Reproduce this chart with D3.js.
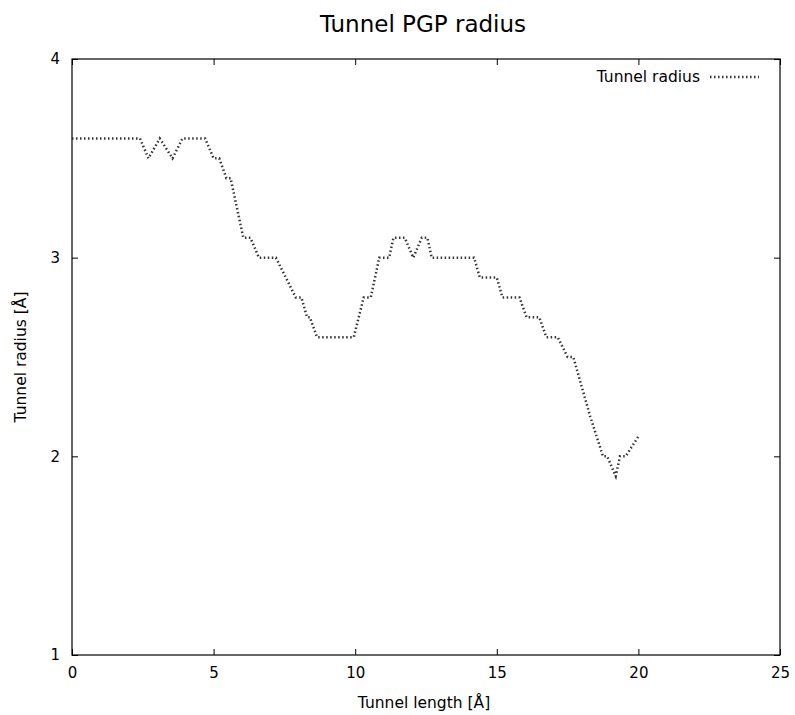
<!DOCTYPE html>
<html><head><meta charset="utf-8">
<script src="https://cdn.jsdelivr.net/npm/d3@7"></script>
<style>body{margin:0;background:#fff}svg{display:block}text{font-family:"DejaVu Sans",sans-serif;fill:#000}</style>
</head><body>
<script>
const tunnelLength = [0,2.4,2.7,3.1,3.55,3.9,4.7,5.0,5.2,5.45,5.6,6.05,6.3,6.6,7.2,7.9,8.1,8.3,8.4,8.65,9.95,10.3,10.55,10.7,10.85,11.2,11.35,11.75,12.05,12.35,12.55,12.7,14.2,14.4,15.0,15.2,15.8,16.05,16.5,16.75,17.15,17.5,17.7,18.3,18.75,18.9,19.2,19.35,19.55,20.0];
const tunnelRadius = [3.6,3.6,3.5,3.6,3.5,3.6,3.6,3.5,3.5,3.4,3.4,3.1,3.1,3.0,3.0,2.8,2.8,2.7,2.7,2.6,2.6,2.8,2.8,2.9,3.0,3.0,3.1,3.1,3.0,3.1,3.1,3.0,3.0,2.9,2.9,2.8,2.8,2.7,2.7,2.6,2.6,2.5,2.5,2.2,2.0,2.0,1.9,2.0,2.0,2.1];
const xTicks = [0,5,10,15,20,25];
const yTicks = [1,2,3,4];

const W=795,H=715, L=72,R=780,T=59,B=655;
const svg=d3.select("body").append("svg").attr("width",W).attr("height",H);
const x=d3.scaleLinear().domain([0,25]).range([L,R]);
const y=d3.scaleLinear().domain([1,4]).range([B,T]);

svg.append("text").attr("x",(L+R)/2-3).attr("y",32).attr("text-anchor","middle").style("font-size","23px").text("Tunnel PGP radius");

const tl=6;
const gx=svg.append("g").attr("transform",`translate(0,${B})`).call(d3.axisBottom(x).tickValues(xTicks).tickSize(-tl).tickPadding(12).tickFormat(d3.format("d")));
const gxt=svg.append("g").attr("transform",`translate(0,${T})`).call(d3.axisTop(x).tickValues(xTicks).tickSize(-tl).tickFormat(""));
const gy=svg.append("g").attr("transform",`translate(${L},0)`).call(d3.axisLeft(y).tickValues(yTicks).tickSize(-tl).tickPadding(12).tickFormat(d3.format("d")));
const gyr=svg.append("g").attr("transform",`translate(${R},0)`).call(d3.axisRight(y).tickValues(yTicks).tickSize(-tl).tickFormat(""));
[gx,gxt,gy,gyr].forEach(g=>{g.select(".domain").remove();g.selectAll("line").attr("stroke","#000");g.selectAll("text").style("font-size","15px").attr("fill","#000").style("font-family","DejaVu Sans");});

svg.append("rect").attr("x",L).attr("y",T).attr("width",R-L).attr("height",B-T).attr("fill","none").attr("stroke","#000").attr("stroke-width",1.2);

svg.append("text").attr("x",(L+R)/2-2).attr("y",708).attr("text-anchor","middle").style("font-size","15.5px").text("Tunnel length [Å]");
svg.append("text").attr("transform",`translate(26,${(T+B)/2}) rotate(-90)`).attr("text-anchor","middle").style("font-size","15.5px").text("Tunnel radius [Å]");

const data=tunnelLength.map((d,i)=>[d,tunnelRadius[i]]);
svg.append("path").datum(data).attr("d",d3.line().x(d=>x(d[0])).y(d=>y(d[1])))
  .attr("fill","none").attr("stroke","#333").attr("stroke-width",2.5).attr("stroke-dasharray","1.5,2.5");

svg.append("text").attr("x",700).attr("y",82).attr("text-anchor","end").style("font-size","15.5px").text("Tunnel radius");
svg.append("line").attr("x1",710).attr("x2",759).attr("y1",77).attr("y2",77).attr("stroke","#333").attr("stroke-width",2.5).attr("stroke-dasharray","1.5,2.5");
</script>
</body></html>
